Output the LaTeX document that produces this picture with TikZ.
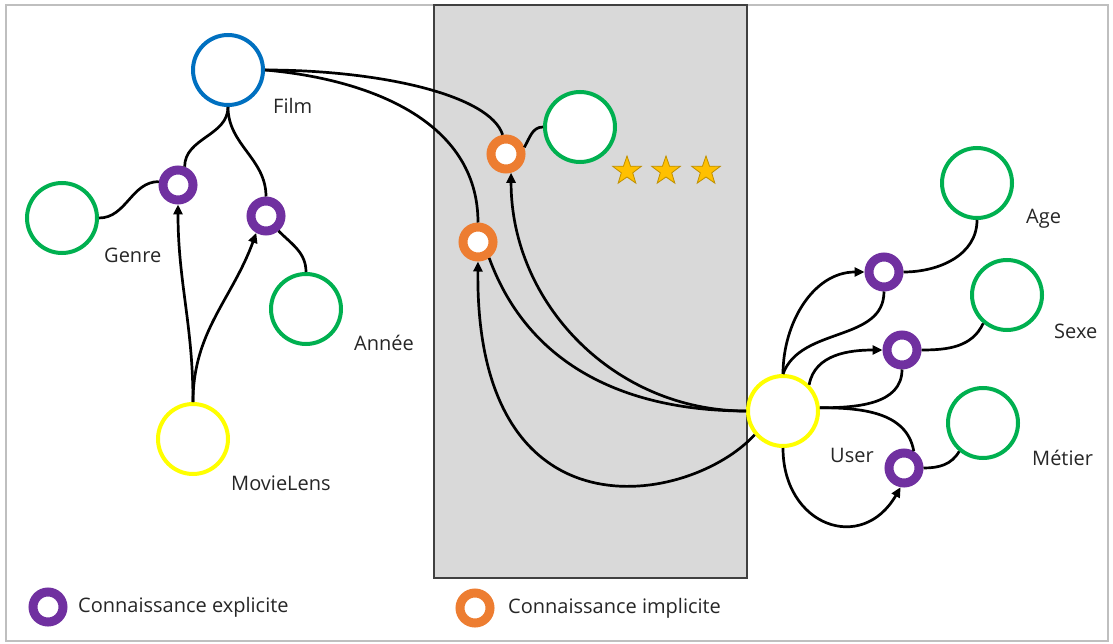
\documentclass[tikz,border=0pt]{standalone}
\usepackage{fontspec}
\setmainfont{Open Sans}
\usetikzlibrary{arrows.meta,shapes.geometric,calc}
\definecolor{filmblue}{HTML}{0070C0}
\definecolor{attrgreen}{HTML}{00B050}
\definecolor{srcyellow}{HTML}{FFFF00}
\definecolor{explpurple}{HTML}{7030A0}
\definecolor{implorange}{HTML}{ED7D31}
\definecolor{boxgray}{HTML}{D9D9D9}
\definecolor{stargold}{HTML}{FFC000}
\definecolor{staredge}{HTML}{BF9000}
\definecolor{labelgray}{HTML}{262626}
\tikzset{
  entity/.style={circle,draw,line width=4pt,minimum size=70pt,inner sep=0pt,fill=white},
  knowring/.style={circle,draw,line width=9pt,minimum size=30pt,inner sep=0pt,fill=white},
  explicit/.style={knowring,draw=explpurple},
  implicit/.style={knowring,draw=implorange},
  lbl/.style={anchor=west,inner sep=0pt,text=labelgray,font=\fontsize{20}{24}\selectfont},
  link/.style={line width=2.7pt},
  arr/.style={link,-{Triangle[length=10pt,width=9pt]}},
  starnode/.style={star,star points=5,star point ratio=2.5,minimum size=30pt,inner sep=0pt,
    fill=stargold,draw=staredge,line width=0.8pt}
}
\begin{document}
\begin{tikzpicture}[x=1pt,y=1pt]
\useasboundingbox (0,0) rectangle (1113,-644);
% frame and middle box
\draw[black!25,line width=2pt] (6,-5) rectangle (1108,-641);
\draw[fill=boxgray,draw=black!75,line width=1.5pt] (434,-5) rectangle (747,-578);
% entities
\node[entity,draw=filmblue] (film) at (228,-70) {};
\node[entity,draw=attrgreen] (genre) at (62,-218) {};
\node[entity,draw=attrgreen] (annee) at (306,-309) {};
\node[entity,draw=srcyellow] (movielens) at (193,-439) {};
\node[entity,draw=attrgreen] (note) at (580,-127) {};
\node[entity,draw=srcyellow] (user) at (783,-411) {};
\node[entity,draw=attrgreen] (age) at (977,-183) {};
\node[entity,draw=attrgreen] (sexe) at (1007,-295) {};
\node[entity,draw=attrgreen] (metier) at (983,-423) {};
% knowledge rings
\node[explicit] (kgenre) at (178,-185) {};
\node[explicit] (kannee) at (266,-216) {};
\node[implicit] (knote) at (506,-154) {};
\node[implicit] (kvu) at (478,-242) {};
\node[explicit] (kage) at (884,-272) {};
\node[explicit] (ksexe) at (902,-350) {};
\node[explicit] (kmetier) at (904,-468) {};
% film side
\draw[link] (film.south) to[out=-90,in=90] (kgenre.70);
\draw[link] (film.south) to[out=-90,in=90] (kannee.north);
\draw[link] (genre.east) to[out=0,in=180] (kgenre.170);
\draw[link] (kannee.-50) to[out=-45,in=90] (annee.north);
\draw[arr] (movielens.north) to[out=90,in=-90] (kgenre.south);
\draw[arr] (movielens.north) to[out=90,in=-110] (kannee.-120);
% implicit part
\draw[link] (film.east) .. controls (380,-70) and (490,-95) .. (knote.100);
\draw[link] (film.east) to[out=-5,in=90] (kvu.north);
\draw[link] (knote.20) to[out=60,in=180] (note.west);
\draw[arr] (user.west) to[out=180,in=-90] (knote.-75);
\draw[link] (kvu.-55) to[out=-70,in=180] (user.west);
\draw[arr] (user.-140) .. controls (690,-505) and (475,-545) .. (kvu.south);
% user side
\draw[arr] (user.north) to[out=90,in=180] (kage.west);
\draw[link] (user.north) to[out=70,in=-90] (kage.south);
\draw[link] (kage.east) to[out=0,in=-90] (age.south);
\draw[arr] (user.45) to[out=80,in=180] (ksexe.west);
\draw[link] (user.5) to[out=0,in=-90] (ksexe.south);
\draw[link] (ksexe.east) to[out=0,in=-115] (sexe.-130);
\draw[link] (user.5) to[out=0,in=100] (kmetier.60);
\draw[arr] (user.south) to[out=-90,in=-120,looseness=1.6] (kmetier.-100);
\draw[link] (kmetier.east) to[out=0,in=-120] (metier.-130);
% labels
\node[lbl] (lfilm) at (273,-106) {Film};
\node[lbl] (lgenre) at (104,-255) {Genre};
\node[lbl] (lannee) at (354,-343) {Année};
\node[lbl] (lmovielens) at (231,-483) {MovieLens};
\node[lbl] (luser) at (830,-455) {User};
\node[lbl] (lage) at (1026,-219) {Age};
\node[lbl] (lsexe) at (1054,-331) {Sexe};
\node[lbl] (lmetier) at (1032,-458) {Métier};
% stars
\foreach \sx [count=\i] in {627,666,706}
  \node[starnode] (star\i) at (\sx,-171) {};
% legend
\node[explicit] (legexpl) at (48,-607) {};
\node[lbl] (lexpl) at (78,-607) {Connaissance explicite};
\node[implicit] (legimpl) at (475,-608) {};
\node[lbl] (limpl) at (508,-608) {Connaissance implicite};
\end{tikzpicture}
\end{document}
